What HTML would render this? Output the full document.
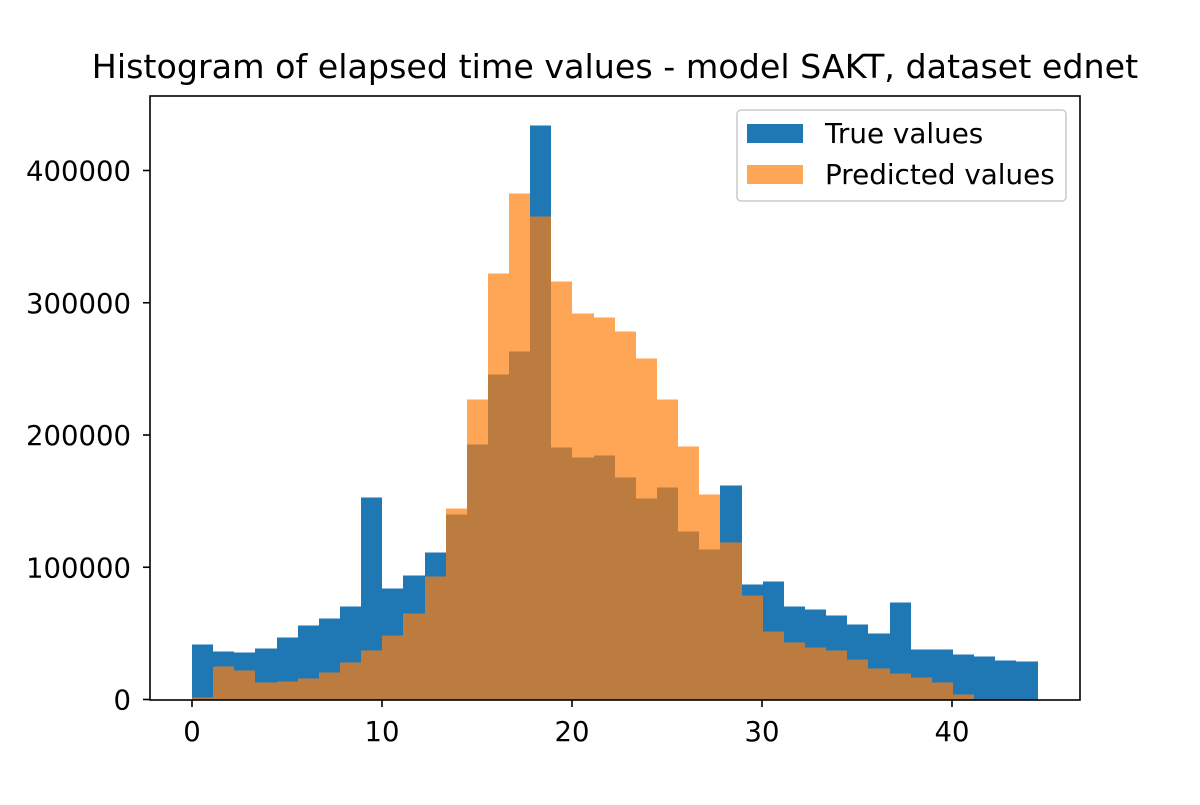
<!DOCTYPE html>
<html><head><meta charset="utf-8"><style>
body{margin:0;background:#fff;}
svg text{font-family:"DejaVu Sans","Liberation Sans",sans-serif;fill:#000;}
</style></head><body>
<svg id="chart" width="1200" height="800" xmlns="http://www.w3.org/2000/svg">
<rect width="1200" height="800" fill="#fff"/>
<text x="615" y="78" font-size="33.3" text-anchor="middle">Histogram of elapsed time values - model SAKT, dataset ednet</text>
<g id="bars" shape-rendering="crispEdges"></g>
<rect x="150" y="96" width="930" height="604" fill="none" stroke="#000" stroke-width="1.6"/>
<g id="xticks"></g><g id="yticks"></g>
<g>
<rect x="737" y="110" width="329" height="91" rx="4" fill="#fff" fill-opacity="0.8" stroke="#ccc" stroke-width="1.6"/>
<rect x="747" y="124" width="56" height="19" fill="#1f77b4"/>
<text x="825" y="143" font-size="27.8">True values</text>
<rect x="747" y="165" width="56" height="19" fill="#ff7f0e" fill-opacity="0.7"/>
<text x="825" y="184" font-size="27.8">Predicted values</text>
</g>
</svg>
<script>
const binStart = 0;
const binWidth = 1.1125;
const trueValues = [41600,36300,35500,38600,46900,56000,61300,70300,152800,84000,93800,111200,140000,192900,245800,263200,434200,190600,183000,184600,167900,152000,160400,127000,113500,161900,87000,89300,70300,68100,63500,56700,49900,73400,37800,37800,34000,32500,29500,28700];
const predictedValues = [1500,25000,22000,12900,13600,15900,20400,28000,37000,48400,65000,93000,144500,227000,322200,382700,365400,316200,292000,289000,278400,258000,227000,191400,155000,118800,78700,51400,43100,39300,37100,30300,23400,19700,16600,12900,3800,0,0,0];
const xTicks = [0,10,20,30,40];
const yTicks = [0,100000,200000,300000,400000];
const NS = "http://www.w3.org/2000/svg";
const xs = v => 192 + v*19.0;
const ys = v => 699.5 - v*0.0013225;
const bars = document.getElementById('bars');
function draw(vals, color, op, nm){
  vals.forEach((v,i)=>{
    if(v<=0) return;
    const r = document.createElementNS(NS,'rect');
    const x0 = Math.round(xs(binStart+i*binWidth)), x1 = Math.round(xs(binStart+(i+1)*binWidth));
    r.setAttribute('x', x0); r.setAttribute('width', x1-x0);
    r.setAttribute('y', ys(v)); r.setAttribute('height', ys(0)-ys(v));
    r.setAttribute('fill', color); r.setAttribute('fill-opacity', op);
    
    
    bars.appendChild(r);
  });
}
draw(trueValues,'#1f77b4',1,'true');
draw(predictedValues,'#ff7f0e',0.7,'predicted');
const xt = document.getElementById('xticks');
xTicks.forEach(t=>{
  const l = document.createElementNS(NS,'line');
  l.setAttribute('x1',xs(t));l.setAttribute('x2',xs(t));l.setAttribute('y1',700);l.setAttribute('y2',707);
  l.setAttribute('stroke','#000');l.setAttribute('stroke-width','1.6');
  
  
  xt.appendChild(l);
  const tx = document.createElementNS(NS,'text');
  tx.setAttribute('x',xs(t));tx.setAttribute('y',741);tx.setAttribute('font-size','27.5');tx.setAttribute('text-anchor','middle');
  tx.textContent = t;
  
  
  xt.appendChild(tx);
});
const yt = document.getElementById('yticks');
yTicks.forEach(t=>{
  const l = document.createElementNS(NS,'line');
  l.setAttribute('x1',143);l.setAttribute('x2',150);l.setAttribute('y1',ys(t));l.setAttribute('y2',ys(t));
  l.setAttribute('stroke','#000');l.setAttribute('stroke-width','1.6');
  
  
  yt.appendChild(l);
  const tx = document.createElementNS(NS,'text');
  tx.setAttribute('x',131);tx.setAttribute('y',ys(t)+10);tx.setAttribute('font-size','27.5');tx.setAttribute('text-anchor','end');
  tx.textContent = t;
  
  
  yt.appendChild(tx);
});
</script>
</body></html>
